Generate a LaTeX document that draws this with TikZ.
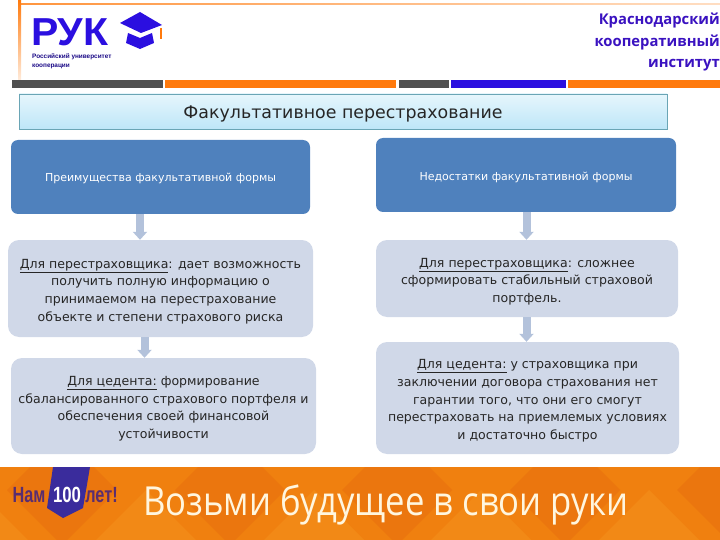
\documentclass[tikz,border=0pt]{standalone}
\usepackage{fontspec}
\setmainfont{DejaVu Sans}
\newfontfamily\bannerfont{Open Sans}
\newfontfamily\logofont{Liberation Sans}
\usetikzlibrary{arrows.meta}
\newcommand{\lift}[1]{\rule{0pt}{#1pt}}
\definecolor{headblue}{HTML}{4F81BD}
\definecolor{lightbox}{HTML}{D0D8E8}
\definecolor{arrowblue}{HTML}{B3C2DB}
\definecolor{rukblue}{HTML}{2B0FE0}
\definecolor{instblue}{HTML}{3A12C0}
\definecolor{rukorange}{HTML}{FF7A0D}
\definecolor{rukgray}{HTML}{505050}
\definecolor{titleedge}{HTML}{6AA5B5}
\definecolor{titletop}{HTML}{E6F6FC}
\definecolor{titlebottom}{HTML}{BEE6F8}
\definecolor{bannerorange}{HTML}{F0800F}
\definecolor{bannerdark}{HTML}{E2600C}
\definecolor{bannerlight}{HTML}{F8A028}
\definecolor{ribbonblue}{HTML}{3A2C9C}
\definecolor{namcolor}{HTML}{5A2D70}
\definecolor{slogancolor}{HTML}{FFF6DF}
\tikzset{
  headbox/.style={rectangle,rounded corners=7pt,fill=headblue,inner sep=0pt,align=center,text=white,font=\fontsize{11}{13}\selectfont},
  textbox/.style={rectangle,rounded corners=11pt,fill=lightbox,inner sep=0pt,align=center,text=black!85,font=\fontsize{12.55}{17.6}\selectfont},
  blockarrow/.style={draw=arrowblue,line width=8pt,-{Triangle[width=14pt,length=8pt]}},
  logotext/.style={inner sep=0pt,text=rukblue},
  bannertext/.style={inner sep=0pt,text=namcolor,xscale=.74,font=\logofont\fontsize{22}{22}\bfseries\selectfont}
}
\begin{document}
\begin{tikzpicture}[x=1pt,y=-1pt]
  \useasboundingbox (0,0) rectangle (720,540);

  % Header lines
  \shade[left color=rukorange!80!white,right color=rukorange!25!white] (18,4) rectangle (720,5);
  \shade[top color=rukorange,bottom color=rukorange!15!white] (18,0) rectangle (21,80);

  % Logo
  \node[logotext,anchor=west,font=\logofont\fontsize{39}{39}\bfseries\selectfont,xscale=1.05] (ruk) at (31,32) {РУК};
  \node[logotext,anchor=north west,align=left,text=rukblue!60!black,font=\logofont\fontsize{6.4}{8.5}\bfseries\selectfont] (rukname) at (32,54) {Российский университет\\кооперации};
  \fill[rukblue] (120,23) -- (140,12) -- (162,25) -- (141,33) -- cycle;
  \fill[rukblue] (128,33) -- (140,38) -- (152,33) -- (154,43) -- (140,49) -- (126,43) -- cycle;
  \fill[rukorange] (160,28) rectangle (161.5,39);
  \node[logotext,align=right,anchor=north east,text=instblue,font=\bannerfont\fontsize{14.8}{21.5}\bfseries\selectfont] (inst) at (720,13) {Краснодарский\\кооперативный\\институт};

  % Coloured bar under the header
  \foreach \xa/\xb/\col in {12/163/rukgray,165/396/rukorange,399/449/rukgray,451/566/rukblue,568/720/rukorange}
    \fill[\col] (\xa,80.5) rectangle (\xb,88);

  % Title
  \node[draw=titleedge,top color=titletop,bottom color=titlebottom,inner sep=0pt,minimum width=648pt,minimum height=35pt,font=\fontsize{17.4}{20}\selectfont,text=black!85] (title) at (343,111.5) {\lift{17}Факультативное перестрахование};

  % Left column
  \node[headbox,minimum width=299pt,minimum height=74pt] (advhead) at (160.5,177) {\lift{10.5}Преимущества факультативной формы};
  \node[textbox,minimum width=305pt,minimum height=97pt] (advre) at (160.5,288.5) {\lift{15}\underline{Для перестраховщика}: дает возможность\\получить полную информацию о\\принимаемом на перестрахование\\объекте и степени страхового риска};
  \node[textbox,minimum width=305pt,minimum height=96pt] (advced) at (163.5,406) {\lift{15}\underline{Для цедента:} формирование\\сбалансированного страхового портфеля и\\обеспечения своей финансовой\\устойчивости};

  % Right column
  \node[headbox,minimum width=300pt,minimum height=74pt] (dishead) at (526,175) {\lift{14}Недостатки факультативной формы};
  \node[textbox,minimum width=302pt,minimum height=77pt] (disre) at (527,278.5) {\lift{15}\underline{Для перестраховщика}: сложнее\\сформировать стабильный страховой\\портфель.};
  \node[textbox,minimum width=303pt,minimum height=112pt] (disced) at (527.5,398) {\lift{15}\underline{Для цедента:} у страховщика при\\заключении договора страхования нет\\гарантии того, что они его смогут\\перестраховать на приемлемых условиях\\и достаточно быстро};

  % Arrows between the boxes
  \foreach \from/\to/\xx in {advhead/advre/140,advre/advced/144.5,dishead/disre/526.5,disre/disced/526.5}
    \draw[blockarrow] (\xx,0 |- \from.south) -- (\xx,0 |- \to.north);

  % Banner
  \fill[bannerorange] (0,467) rectangle (720,540);
  \begin{scope}
    \clip (0,467) rectangle (720,540);
    \foreach \xc in {62,230,397,565,732}
      \fill[bannerdark,opacity=.3] (\xc,435) -- (\xc+55,490) -- (\xc,545) -- (\xc-55,490) -- cycle;
    \foreach \xc in {-22,146,314,481,649}
      \fill[bannerlight,opacity=.3] (\xc,490) -- (\xc+55,545) -- (\xc,600) -- (\xc-55,545) -- cycle;
  \end{scope}
  \fill[ribbonblue] (53,467) -- (90,467) -- (83,508) -- (63,518) -- (47,508) -- cycle;
  \node[bannertext] (nam) at (29,495) {Нам};
  \node[bannertext,text=white,xscale=1.03] (hundred) at (67,495) {100};
  \node[bannertext] (let) at (101.5,495) {лет!};
  \node[inner sep=0pt,text=slogancolor,anchor=west,xscale=.866,font=\bannerfont\fontsize{40}{40}\selectfont] (slogan) at (143,505) {Возьми будущее в свои руки};
\end{tikzpicture}
\end{document}
